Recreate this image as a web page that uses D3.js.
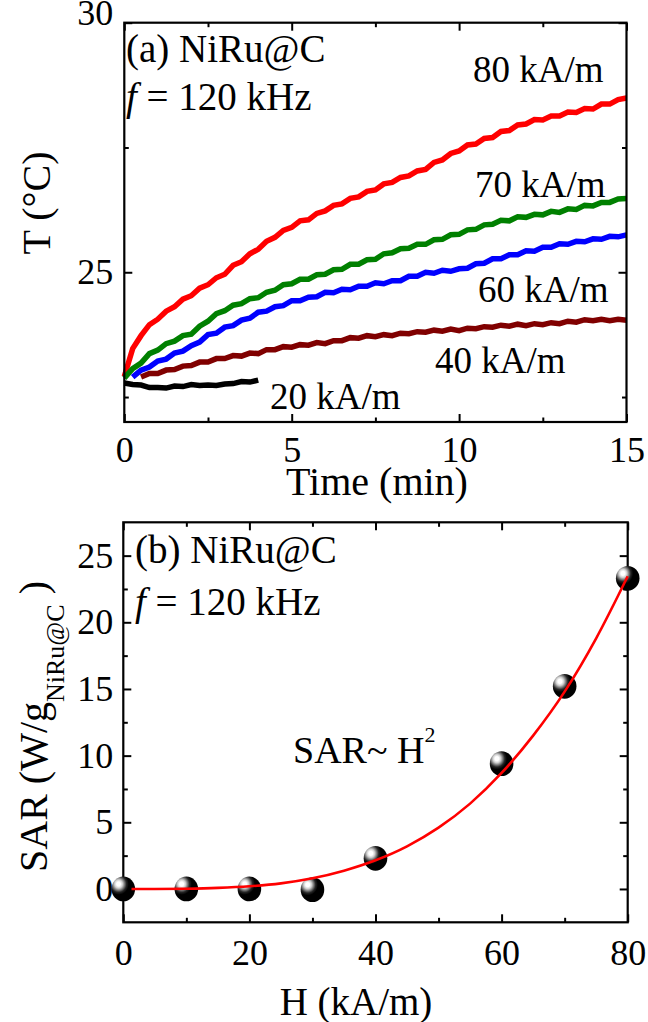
<!DOCTYPE html>
<html><head><meta charset="utf-8">
<script src="https://cdn.jsdelivr.net/npm/d3@7"></script>
<style>
html,body{margin:0;padding:0;background:#fff;}
svg{display:block;background:#fff;}
text{font-family:'Liberation Serif','Times New Roman',Tinos,'DejaVu Serif',serif;fill:#000;}
</style></head><body>
<svg id="chart" width="648" height="1022"></svg>
<script>
// ---------- Panel (a) data ----------
const timeMin = [0,0.25,0.5,0.75,1,1.25,1.5,1.75,2,2.25,2.5,2.75,3,3.25,3.5,3.75,4,4.25,4.5,4.75,5,5.25,5.5,5.75,6,6.25,6.5,6.75,7,7.25,7.5,7.75,8,8.25,8.5,8.75,9,9.25,9.5,9.75,10,10.25,10.5,10.75,11,11.25,11.5,11.75,12,12.25,12.5,12.75,13,13.25,13.5,13.75,14,14.25,14.5,14.75,15];
const temp80 = [22.91,23.47,23.73,23.95,24.06,24.22,24.31,24.46,24.53,24.68,24.75,24.89,24.96,25.14,25.21,25.37,25.46,25.62,25.7,25.84,25.9,26.03,26.05,26.18,26.23,26.34,26.37,26.48,26.51,26.62,26.65,26.77,26.8,26.9,26.93,27.03,27.06,27.2,27.25,27.38,27.43,27.55,27.57,27.68,27.7,27.82,27.84,27.95,27.97,28.06,28.05,28.13,28.13,28.21,28.2,28.28,28.27,28.37,28.37,28.46,28.49];
const temp70 = [22.88,23.07,23.18,23.37,23.44,23.57,23.62,23.73,23.76,23.92,24.02,24.17,24.23,24.34,24.37,24.47,24.49,24.6,24.64,24.75,24.77,24.86,24.86,24.95,24.96,25.05,25.06,25.16,25.16,25.25,25.26,25.37,25.39,25.47,25.48,25.56,25.56,25.65,25.66,25.75,25.76,25.85,25.86,25.95,25.96,26.04,26.03,26.11,26.1,26.16,26.15,26.22,26.2,26.27,26.26,26.34,26.33,26.4,26.4,26.47,26.48];
const temp60 = [null,22.9,23.04,23.1,23.22,23.26,23.38,23.42,23.53,23.6,23.75,23.78,23.9,23.93,24.04,24.08,24.2,24.22,24.31,24.33,24.43,24.43,24.5,24.51,24.6,24.59,24.66,24.65,24.72,24.72,24.79,24.77,24.83,24.83,24.92,24.92,25.0,24.98,25.04,25.02,25.07,25.08,25.17,25.18,25.27,25.27,25.35,25.35,25.43,25.42,25.5,25.5,25.57,25.56,25.62,25.61,25.67,25.66,25.72,25.71,25.75];
const temp40 = [null,null,22.9,22.97,22.97,23.04,23.05,23.12,23.13,23.2,23.2,23.27,23.27,23.33,23.32,23.38,23.37,23.45,23.45,23.51,23.5,23.55,23.54,23.59,23.57,23.63,23.63,23.69,23.68,23.73,23.71,23.75,23.73,23.78,23.77,23.81,23.8,23.84,23.82,23.86,23.83,23.88,23.87,23.91,23.9,23.94,23.92,23.96,23.93,23.97,23.95,23.99,23.97,24.02,24.0,24.05,24.03,24.06,24.03,24.06,24.04];
const temp20 = [22.78,22.75,22.74,22.69,22.69,22.68,22.72,22.71,22.75,22.73,22.74,22.73,22.76,22.77,22.81,22.8,22.84];
const seriesNames = ["80 kA/m","70 kA/m","60 kA/m","40 kA/m","20 kA/m"];

const timeTicks = [0,5,10,15];
const timeMinorTicks = [2.5,7.5,12.5];
const tempTicks = [25,30];
const tempMinorTicks = [22.5,27.5];

// ---------- Panel (b) data ----------
const fieldH = [0,10,20,30,40,60,70,80];
const sarValues = [0,0,0,-0.05,2.3,9.4,15.2,23.3];
const fitH = [1.3,5,10,15,20,25,30,35,40,45,50,55,60,65,70,75,80];
const fitSAR = [0,0.0,0.02,0.08,0.2,0.42,0.8,1.37,2.15,3.2,4.6,6.4,8.7,11.5,14.8,18.8,23.45];
const hTicks = [0,20,40,60,80];
const hMinorTicks = [10,30,50,70];
const sarTicks = [0,5,10,15,20,25];
const sarMinorTicks = [2.5,7.5,12.5,17.5,22.5];

// ---------- drawing ----------
const svg = d3.select("#chart");
const FONT = "'Liberation Serif','Times New Roman',Tinos,'DejaVu Serif',serif";

const defs = svg.append("defs");
const grad = defs.append("radialGradient").attr("id","ball")
  .attr("cx",0.3).attr("cy",0.3).attr("r",0.6).attr("fx",0.3).attr("fy",0.3);
[[0,"#ffffff"],[0.14,"#ffffff"],[0.28,"#cfcfcf"],[0.42,"#7a7a7a"],[0.56,"#252525"],[0.72,"#000000"],[1,"#000000"]]
  .forEach(([o,c]) => grad.append("stop").attr("offset",o).attr("stop-color",c));

function drawAxes(x, y, xMajor, xMinor, yMajor, yMinor, xPad, yPad) {
  const [xl, xr] = x.range();
  const [yb, yt] = y.range();
  const g = svg.append("g");
  const style = sel => {
    sel.attr("font-family", null).attr("font-size", null);
    sel.select(".domain").remove();
    sel.selectAll(".tick line").attr("stroke","#000").attr("stroke-width",2);
    sel.selectAll("text").style("font-size","36px").style("font-family",FONT).attr("fill","#000");
  };
  g.append("g").attr("transform",`translate(0,${yb})`)
    .call(d3.axisBottom(x).tickValues(xMajor).tickSize(-8).tickPadding(xPad).tickFormat(d3.format("d"))).call(style);
  g.append("g").attr("transform",`translate(0,${yb})`)
    .call(d3.axisBottom(x).tickValues(xMinor).tickSize(-4.5).tickFormat("")).call(style);
  g.append("g").attr("transform",`translate(0,${yt})`)
    .call(d3.axisTop(x).tickValues(xMajor).tickSize(-8).tickFormat("")).call(style);
  g.append("g").attr("transform",`translate(0,${yt})`)
    .call(d3.axisTop(x).tickValues(xMinor).tickSize(-4.5).tickFormat("")).call(style);
  const left = g.append("g").attr("transform",`translate(${xl},0)`)
    .call(d3.axisLeft(y).tickValues(yMajor).tickSize(-8).tickPadding(yPad).tickFormat(d3.format("d"))).call(style);
  g.append("g").attr("transform",`translate(${xl},0)`)
    .call(d3.axisLeft(y).tickValues(yMinor).tickSize(-4.5).tickFormat("")).call(style);
  g.append("g").attr("transform",`translate(${xr},0)`)
    .call(d3.axisRight(y).tickValues(yMajor).tickSize(-8).tickFormat("")).call(style);
  g.append("g").attr("transform",`translate(${xr},0)`)
    .call(d3.axisRight(y).tickValues(yMinor).tickSize(-4.5).tickFormat("")).call(style);
  g.append("rect").attr("x",xl).attr("y",yt).attr("width",xr-xl).attr("height",yb-yt)
    .attr("fill","none").attr("stroke","#000").attr("stroke-width",2.2);
  return {g, left};
}

function addText(x, y, parts, size, opts={}) {
  const t = svg.append("text").attr("x",x).attr("y",y)
    .style("font-size",size+"px").style("font-family",FONT);
  if (opts.anchor) t.attr("text-anchor",opts.anchor);
  if (opts.rotate) t.attr("transform",`rotate(${opts.rotate},${x},${y})`);
  parts.forEach(p => {
    const s = t.append("tspan").text(p.text);
    if (p.italic) s.style("font-style","italic");
    if (p.size) s.style("font-size",p.size+"px");
    if (p.dy !== undefined) s.attr("dy",p.dy);
  });
  return t;
}

// ===== Panel (a) =====
const xa = d3.scaleLinear().domain([0,15]).range([124.3,626.5]);
const ya = d3.scaleLinear().domain([22,30]).range([422,22.7]);

const seriesA = [
  {name:seriesNames[0], vals:temp80, color:"#ff0000"},
  {name:seriesNames[1], vals:temp70, color:"#008000"},
  {name:seriesNames[2], vals:temp60, color:"#0000ff"},
  {name:seriesNames[3], vals:temp40, color:"#800000"},
  {name:seriesNames[4], vals:temp20, color:"#000000"}
];
const lineA = d3.line().defined(d => d.v !== null).x(d => xa(d.t)).y(d => ya(d.v));
seriesA.forEach(s => {
  const pts = s.vals.map((v,i) => ({t:timeMin[i], v}));
  svg.append("path").datum(pts).attr("d",lineA).attr("fill","none")
    .attr("stroke",s.color).attr("stroke-width",5.5).attr("stroke-linejoin","miter");
});

const axA = drawAxes(xa, ya, timeTicks, timeMinorTicks, tempTicks, tempMinorTicks, 14.5, 11);
axA.left.selectAll(".tick text").filter(d => d === 30).attr("dy","0.06em");

addText(126, 62, [{text:"(a) NiRu@C"}], 39);
addText(126, 110, [{text:"f", italic:true},{text:" = 120 kHz"}], 39);

const labelPos = [[473,82],[475,197],[478,302],[435,373],[270,409]];
seriesA.forEach((s,i) => addText(labelPos[i][0], labelPos[i][1], [{text:s.name}], 37));

addText(377, 495, [{text:"Time (min)"}], 40, {anchor:"middle"});
addText(50, 203, [{text:"T (°C)"}], 40, {anchor:"middle", rotate:-90});

// ===== Panel (b) =====
const xb = d3.scaleLinear().domain([0,80]).range([123.3,627.7]);
const yb = d3.scaleLinear().domain([-2.5,27.5]).range([922.3,522.3]);

drawAxes(xb, yb, hTicks, hMinorTicks, sarTicks, sarMinorTicks, 17.5, 10);

svg.append("g").selectAll("ellipse").data(fieldH.map((h,i) => ({h, s:sarValues[i]})))
  .join("ellipse")
  .attr("cx", d => xb(d.h)).attr("cy", d => yb(d.s))
  .attr("rx", 11.8).attr("ry", 12.4).attr("fill","url(#ball)");

const fitLine = d3.line().curve(d3.curveMonotoneX).x(d => xb(d.h)).y(d => yb(d.s));
svg.append("path").datum(fitH.map((h,i) => ({h, s:fitSAR[i]})))
  .attr("d", fitLine).attr("fill","none").attr("stroke","#ff0000").attr("stroke-width",2.6);

addText(135, 563, [{text:"(b) NiRu@C"}], 39);
addText(135, 615, [{text:"f", italic:true},{text:" = 120 kHz"}], 39);
addText(293, 763, [{text:"SAR~ H"},{text:"2", size:22, dy:-21}], 38);

addText(356, 1015, [{text:"H (kA/m)"}], 39, {anchor:"middle"});
addText(47, 872, [{text:"SAR (W/g"},{text:"NiRu@C", size:26, dy:17},{text:" )", dy:-17}], 40, {rotate:-90});
</script>
</body></html>
